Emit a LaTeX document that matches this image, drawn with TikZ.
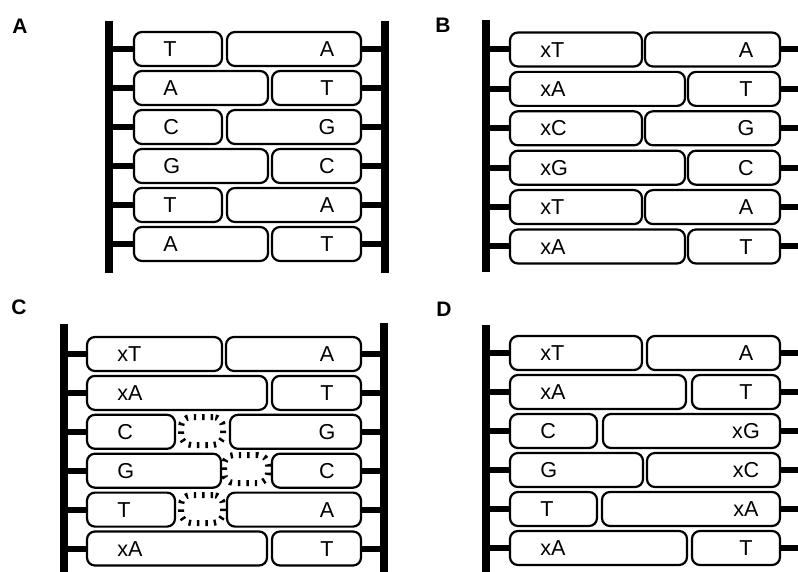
\documentclass[tikz,border=0pt]{standalone}
\usepackage{fontspec}
\setmainfont{Liberation Sans}

\tikzset{
    backbone/.style={line width=4pt},
    stub/.style={line width=3pt},
    pairbox/.style={draw, line width=1.1pt, rounded corners=4pt, inner sep=0pt, outer sep=0pt, minimum height=17pt},
    baselabel/.style={inner sep=0pt, text height=7.7pt, text depth=0pt, font=\fontsize{10.8}{12}\selectfont},
    panellabel/.style={inner sep=0pt, font=\bfseries\fontsize{10.5}{12}\selectfont},
    gapmark/.style={draw, line width=3pt, dash pattern=on 1.2pt off 3pt, rounded corners=5pt, inner sep=0pt, minimum height=14pt}
}

\begin{document}
\begin{tikzpicture}[x=0.5pt, y=-0.5pt]
    \useasboundingbox (0,0) rectangle (798,572);

    \node [panellabel] (A) at (20,26) {A};
    \node [panellabel] (B) at (443,25) {B};
    \node [panellabel] (C) at (19,307) {C};
    \node [panellabel] (D) at (444,309) {D};

    \coordinate (A-top) at (109,21);
    \coordinate (A-bot) at (109,273);
    \coordinate (A-rtop) at (385,21);
    \coordinate (A-rbot) at (385,273);
    \draw [backbone] (A-top) -- (A-bot);
    \draw [backbone] (A-rtop) -- (A-rbot);
    \foreach \r/\le/\rs/\lt/\rt in {1/222/227/T/A, 2/268/272/A/T, 3/222/227/C/G, 4/268/272/G/C, 5/222/227/T/A, 6/268/272/A/T} {
        \pgfmathsetmacro\y{49+39*(\r-1)}
        \pgfmathsetmacro\lw{(\le-134)/2}
        \pgfmathsetmacro\rw{(361-\rs)/2}
        \node [pairbox, minimum width=\lw pt] (A-l\r) at ({(134+\le)/2}, \y) {};
        \node [pairbox, minimum width=\rw pt] (A-r\r) at ({(\rs+361)/2}, \y) {};
        \node [baselabel, anchor=west] (A-lt\r) at ([xshift=14.5pt]A-l\r.west) {\lt};
        \node [baselabel] (A-rt\r) at ([xshift=-17pt]A-r\r.east) {\rt};
        \draw [stub] (A-l\r.west) -- (A-top |- A-l\r.west);
        \draw [stub] (A-r\r.east) -- (A-rtop |- A-r\r.east);
    }

    \coordinate (B-top) at (486,20);
    \coordinate (B-bot) at (486,272);
    \coordinate (B-edge) at (798,20);
    \draw [backbone] (B-top) -- (B-bot);
    \foreach \r/\le/\rs/\lt/\rt in {1/642/645/xT/A, 2/685/688/xA/T, 3/642/645/xC/G, 4/685/688/xG/C, 5/642/645/xT/A, 6/685/688/xA/T} {
        \pgfmathsetmacro\y{49.5+39.4*(\r-1)}
        \pgfmathsetmacro\lw{(\le-510)/2}
        \pgfmathsetmacro\rw{(780-\rs)/2}
        \node [pairbox, minimum width=\lw pt] (B-l\r) at ({(510+\le)/2}, \y) {};
        \node [pairbox, minimum width=\rw pt] (B-r\r) at ({(\rs+780)/2}, \y) {};
        \node [baselabel, anchor=west] (B-lt\r) at ([xshift=15pt]B-l\r.west) {\lt};
        \node [baselabel] (B-rt\r) at ([xshift=-17pt]B-r\r.east) {\rt};
        \draw [stub] (B-l\r.west) -- (B-top |- B-l\r.west);
        \draw [stub] (B-r\r.east) -- (B-edge |- B-r\r.east);
    }

    \coordinate (C-top) at (64,324);
    \coordinate (C-bot) at (64,572);
    \coordinate (C-rtop) at (384,323);
    \coordinate (C-rbot) at (384,572);
    \draw [backbone] (C-top) -- (C-bot);
    \draw [backbone] (C-rtop) -- (C-rbot);
    \foreach \r/\le/\rs/\lt/\rt in {1/222/226/xT/A, 2/267/272/xA/T, 3/175/230/C/G, 4/221/272/G/C, 5/175/227/T/A, 6/267/272/xA/T} {
        \pgfmathsetmacro\y{354+38.9*(\r-1)}
        \pgfmathsetmacro\lw{(\le-87)/2}
        \pgfmathsetmacro\rw{(361-\rs)/2}
        \node [pairbox, minimum width=\lw pt] (C-l\r) at ({(87+\le)/2}, \y) {};
        \node [pairbox, minimum width=\rw pt] (C-r\r) at ({(\rs+361)/2}, \y) {};
        \node [baselabel, anchor=west] (C-lt\r) at ([xshift=15pt]C-l\r.west) {\lt};
        \node [baselabel] (C-rt\r) at ([xshift=-17pt]C-r\r.east) {\rt};
        \draw [stub] (C-l\r.west) -- (C-top |- C-l\r.west);
        \draw [stub] (C-r\r.east) -- (C-rtop |- C-r\r.east);
    }
    \node [gapmark, minimum width=21pt] (C-g3) at (202,431) {};
    \node [gapmark, minimum width=22pt] (C-g4) at (246,469) {};
    \node [gapmark, minimum width=21pt] (C-g5) at (202,509) {};

    \coordinate (D-top) at (486,325);
    \coordinate (D-bot) at (486,572);
    \coordinate (D-edge) at (798,325);
    \draw [backbone] (D-top) -- (D-bot);
    \foreach \r/\le/\rs/\lt/\rt in {1/642/647/xT/A, 2/686/692/xA/T, 3/597/603/C/xG, 4/643/647/G/xC, 5/597/602/T/xA, 6/687/692/xA/T} {
        \pgfmathsetmacro\y{353+39*(\r-1)}
        \pgfmathsetmacro\lw{(\le-510)/2}
        \pgfmathsetmacro\rw{(780-\rs)/2}
        \node [pairbox, minimum width=\lw pt] (D-l\r) at ({(510+\le)/2}, \y) {};
        \node [pairbox, minimum width=\rw pt] (D-r\r) at ({(\rs+780)/2}, \y) {};
        \node [baselabel, anchor=west] (D-lt\r) at ([xshift=15pt]D-l\r.west) {\lt};
        \node [baselabel] (D-rt\r) at ([xshift=-17pt]D-r\r.east) {\rt};
        \draw [stub] (D-l\r.west) -- (D-top |- D-l\r.west);
        \draw [stub] (D-r\r.east) -- (D-edge |- D-r\r.east);
    }
\end{tikzpicture}
\end{document}
